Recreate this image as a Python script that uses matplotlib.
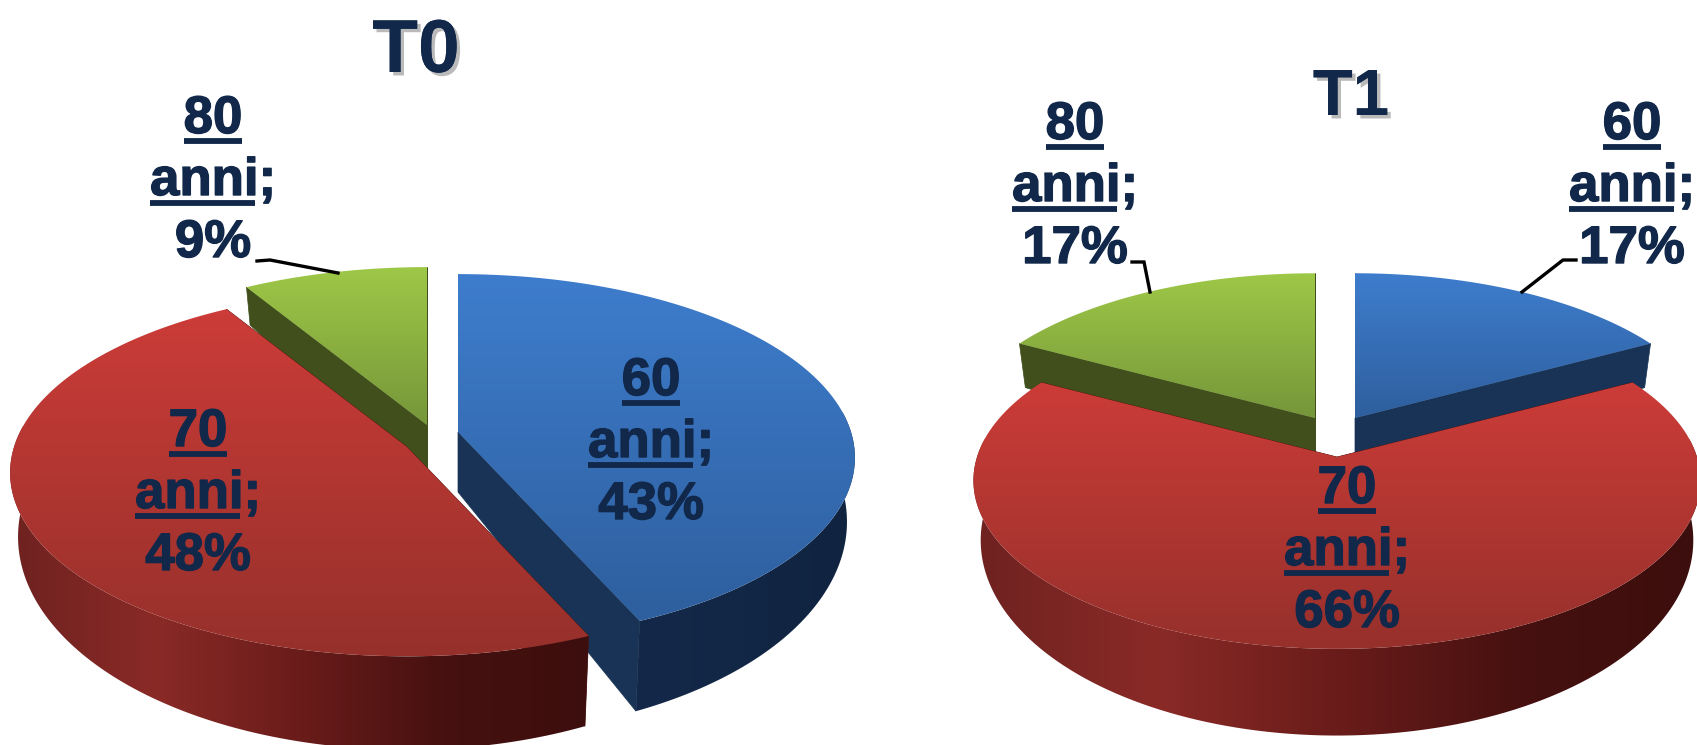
import matplotlib
matplotlib.use('Agg')
import matplotlib.pyplot as plt
import matplotlib.patheffects as pe
from matplotlib.colors import LinearSegmentedColormap
from matplotlib.patches import Polygon
import numpy as np

# Data
ages = ['60', '70', '80']
t0_values = [43.4, 48.0, 8.6]
t1_values = [17, 66, 17]
titles = ['T0', 'T1']

W, H = 1697, 745
navy = '#11284A'
font = 'Liberation Sans'

# Colours per slice: blue, red, green
top_colors = [('#3E7DCD', '#2E5F9E'), ('#CC3C38', '#96302B'), ('#9EC847', '#76963A')]
radial_colors = ['#183355', '#4A1412', '#404F1B']
wall_colors = [('#14294A', '#102440'),
               ('#6E2220', '#8A2A27', '#6A1C1A', '#461110', '#3C0E0D'),
               ('#404F1B', '#333F15')]

# Draw order, back to front
order = [2, 0, 1]

fig = plt.figure(figsize=(W / 100, H / 100), dpi=100)
ax = fig.add_axes([0, 0, 1, 1])
ax.set_xlim(0, W)
ax.set_ylim(H, 0)
ax.autoscale(False)
ax.axis('off')
zcount = [1]


def gradient(xy, colors, vertical):
    poly = Polygon(xy, closed=True, fc='none', ec='none')
    ax.add_patch(poly)
    cmap = LinearSegmentedColormap.from_list('g', colors)
    g = np.linspace(0, 1, 256)
    arr = g[:, None] if vertical else g[None, :]
    ext = (xy[:, 0].min(), xy[:, 0].max(), xy[:, 1].max(), xy[:, 1].min())
    im = ax.imshow(arr, cmap=cmap, extent=ext, aspect='auto', origin='upper', zorder=zcount[0])
    im.set_clip_path(poly)
    zcount[0] += 1


def project(theta, apex, rx, ry, k):
    # theta clockwise from the back of the pie, with perspective
    x_ = np.sin(theta)
    y_ = np.cos(theta)
    w = 1 + k * y_
    return np.column_stack([apex[0] + rx * x_ / w, apex[1] - ry * y_ / w])


def lower(xy, apex, height, slope, shrink):
    # same points on the underside of the pie
    out = xy.copy().astype(float)
    out[:, 0] = apex[0] + shrink * (xy[:, 0] - apex[0])
    out[:, 1] = xy[:, 1] + height + slope * (xy[:, 1] - apex[1])
    return out


def draw_pie(values, apexes, rx, ry, k, height, slope):
    fracs = np.array(values) / sum(values) * 2 * np.pi
    starts = np.concatenate([[0], np.cumsum(fracs)[:-1]])
    for i in order:
        apex = apexes[i]
        theta = np.linspace(starts[i], starts[i] + fracs[i], 160)
        arc = project(theta, apex, rx, ry, k)
        arc_low = lower(arc, apex, height, slope, 0.98)
        a = np.array([apex], dtype=float)
        a_low = lower(a, apex, height, slope, 0.98)

        # cut faces first, then the part of the outer wall that faces us
        for j in (0, -1):
            face = np.vstack([a, arc[[j]], arc_low[[j]], a_low])
            ax.add_patch(Polygon(face, closed=True, fc=radial_colors[i], ec=radial_colors[i],
                                 lw=0.5, zorder=zcount[0]))
            zcount[0] += 1
        front = np.cos(theta) < 0.12
        if front.any():
            gradient(np.vstack([arc[front], arc_low[front][::-1]]), wall_colors[i], False)

        top = np.vstack([a, arc])
        gradient(top, top_colors[i], True)


def label(x, base, age, pct, size=38, gap=62):
    r = fig.canvas.get_renderer()
    heavy = [pe.withStroke(linewidth=1.0, foreground=navy)]
    kw = dict(family=font, weight='bold', fontsize=size, color=navy, va='baseline', zorder=500,
              path_effects=heavy)
    t = ax.text(x, base, age, ha='center', **kw)
    w = t.get_window_extent(r).width
    ax.plot([x - w / 2, x + w / 2], [base + 8, base + 8], color=navy, lw=4.2, solid_capstyle='butt', zorder=500)
    t2 = ax.text(x, base + gap, 'anni;', ha='center', **kw)
    box = t2.get_window_extent(r)
    semi = ax.text(0, 0, ';', **kw)
    sw = semi.get_window_extent(r).width
    semi.remove()
    ax.plot([box.x0, box.x1 - sw - 3], [base + gap + 8, base + gap + 8], color=navy, lw=4.2,
            solid_capstyle='butt', zorder=500)
    ax.text(x, base + 2 * gap, pct, ha='center', **kw)


# T0
draw_pie(t0_values, [(458, 432), (407, 447), (427, 425)], 393, 180, 0.14, 60, 0.16)
# T1
draw_pie(t1_values, [(1355, 418), (1337, 457), (1315, 418)], 360, 165, 0.14, 56, 0.16)

# leader lines
for xs, ys in [([257, 270, 338], [261, 260, 273]),
               ([1132, 1144, 1150], [262, 262, 292]),
               ([1576, 1563, 1522], [260, 260, 292])]:
    ax.plot(xs, ys, color='black', lw=2.4, zorder=400, solid_joinstyle='miter')

# titles
shadow = [pe.withSimplePatchShadow(offset=(2.5, -2.5), shadow_rgbFace='#777777', alpha=0.5), pe.Normal()]
ax.text(416, 72, titles[0], family=font, weight='bold', fontsize=54, color=navy, ha='center',
        va='baseline', path_effects=shadow, zorder=500)
ax.text(1351, 115, titles[1], family=font, weight='bold', fontsize=47, color=navy, ha='center',
        va='baseline', path_effects=shadow, zorder=500)

# slice labels
label(213, 133, ages[2], f'{t0_values[2]:.0f}%')
label(651, 395, ages[0], f'{t0_values[0]:.0f}%')
label(198, 446, ages[1], f'{t0_values[1]:.0f}%')
label(1075, 139, ages[2], f'{t1_values[2]:.0f}%')
label(1632, 139, ages[0], f'{t1_values[0]:.0f}%')
label(1347, 503, ages[1], f'{t1_values[1]:.0f}%')

fig.savefig('out.png', dpi=100)
